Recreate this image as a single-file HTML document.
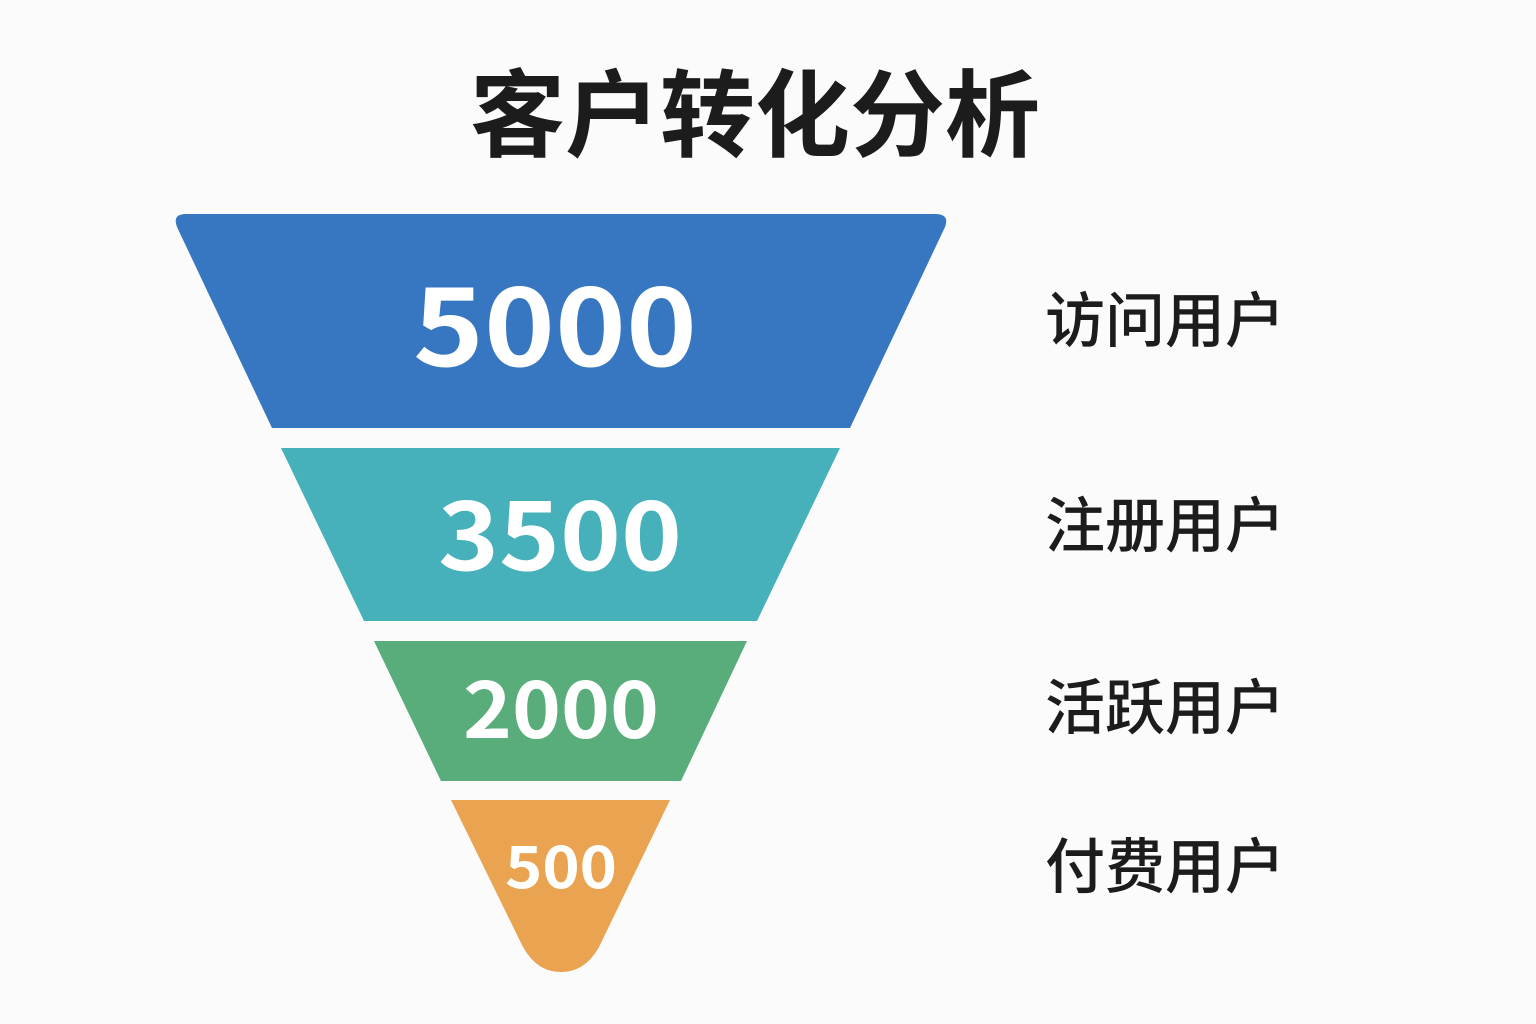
<!DOCTYPE html>
<html lang="zh">
<head>
<meta charset="utf-8">
<style>
html,body{margin:0;padding:0;background:#fbfbfb;}
svg{display:block;}
</style>
</head>
<body>
<svg width="1536" height="1024" viewBox="0 0 1536 1024" xmlns="http://www.w3.org/2000/svg">
<rect width="1536" height="1024" fill="#fbfbfb"/>
<text x="755" y="149" text-anchor="middle" font-family="'Liberation Sans','Noto Sans CJK SC',sans-serif" font-weight="700" font-size="95" fill="#1c1c1c">客户转化分析</text>
<path d="M186 214H935Q950 214 945 227L850 428H272L177 227Q172 214 186 214Z" fill="#3776c0"/>
<path d="M281 448H840L757 621H364Z" fill="#46b1ba"/>
<path d="M374 641H747L681 781H441Z" fill="#59ad7a"/>
<path d="M451 800H670L600 945Q586 972 561 972Q536 972 522 945Z" fill="#e9a351"/>
<g font-family="'Noto Sans CJK SC','Liberation Sans',sans-serif" font-weight="700" fill="#fff" text-anchor="middle">
<text x="555" y="366" font-size="106" textLength="284" lengthAdjust="spacingAndGlyphs">5000</text>
<text x="560" y="570" font-size="93" textLength="244" lengthAdjust="spacingAndGlyphs">3500</text>
<text x="561" y="738" font-size="77" textLength="196" lengthAdjust="spacingAndGlyphs">2000</text>
<text x="561" y="888" font-size="57" textLength="112" lengthAdjust="spacingAndGlyphs">500</text>
</g>
<g font-family="'Liberation Sans','Noto Sans CJK SC',sans-serif" font-weight="500" font-size="60" fill="#1c1c1c">
<text x="1045" y="342">访问用户</text>
<text x="1045" y="547">注册用户</text>
<text x="1045" y="729">活跃用户</text>
<text x="1045" y="888">付费用户</text>
</g>
</svg>
</body>
</html>
